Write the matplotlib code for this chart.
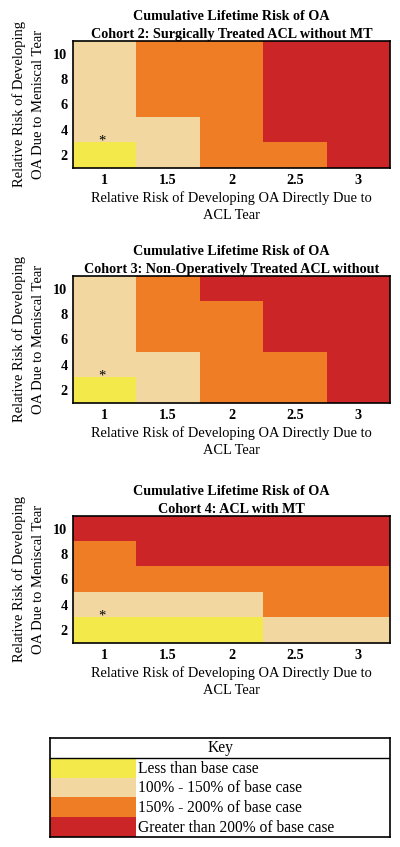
import matplotlib
matplotlib.use("Agg")
from matplotlib import pyplot as plt
from matplotlib.colors import ListedColormap
import numpy as np

plt.rcParams['font.family'] = ['Liberation Serif', 'DejaVu Serif']

# x: relative risk OA due to ACL tear, y: relative risk due to meniscal tear
acl_rr = [1, 1.5, 2, 2.5, 3]
mt_rr = [2, 4, 6, 8, 10]

# category per cell, rows = mt_rr (2 -> 10), cols = acl_rr
# 0 less than base, 1 100-150%, 2 150-200%, 3 >200%
cohort2 = [[0, 1, 2, 2, 3],
           [1, 1, 2, 3, 3],
           [1, 2, 2, 3, 3],
           [1, 2, 2, 3, 3],
           [1, 2, 2, 3, 3]]
cohort3 = [[0, 1, 2, 2, 3],
           [1, 1, 2, 2, 3],
           [1, 2, 2, 3, 3],
           [1, 2, 2, 3, 3],
           [1, 2, 3, 3, 3]]
cohort4 = [[0, 0, 0, 1, 1],
           [1, 1, 1, 2, 2],
           [2, 2, 2, 2, 2],
           [2, 3, 3, 3, 3],
           [3, 3, 3, 3, 3]]

titles = ["Cumulative Lifetime Risk of OA\nCohort 2: Surgically Treated ACL without MT",
          "Cumulative Lifetime Risk of OA\nCohort 3: Non-Operatively Treated ACL without",
          "Cumulative Lifetime Risk of OA\nCohort 4: ACL with MT"]

# base case marker (asterisk)
base_case = (0.98, 3.15)

key_labels = ["Less than base case", "100% - 150% of base case",
              "150% - 200% of base case", "Greater than 200% of base case"]
colors = ['#F3E94B', '#F2D8A0', '#EE7D25', '#CB2528']
cmap = ListedColormap(colors)

fig = plt.figure(figsize=(4, 8.47), dpi=100)

bottoms = [0.8017, 0.5242, 0.2409]
for data, title, b in zip([cohort2, cohort3, cohort4], titles, bottoms):
    ax = fig.add_axes([0.1825, b, 0.7925, 0.15])
    ax.imshow(np.array(data), cmap=cmap, vmin=-0.5, vmax=3.5, origin='lower',
              aspect='auto', extent=(0.75, 3.25, 1, 11), interpolation='nearest')
    ax.set_xticks(acl_rr)
    ax.set_xticklabels([str(v) for v in acl_rr], fontweight='bold', fontsize=10.3)
    ax.set_yticks(mt_rr)
    ax.set_yticklabels([str(v) for v in mt_rr], fontweight='bold', fontsize=10.3)
    ax.tick_params(length=0, pad=4)
    for s in ax.spines.values():
        s.set_linewidth(1.2)
    ax.set_title(title, fontweight='bold', fontsize=10.2, pad=2, linespacing=1.5)
    ax.set_xlabel("Relative Risk of Developing OA Directly Due to\nACL Tear",
                  fontsize=10.4, labelpad=3.5, linespacing=1.4)
    ax.set_ylabel("Relative Risk of Developing\nOA Due to Meniscal Tear",
                  fontsize=10.5, labelpad=6, linespacing=1.6)
    ax.text(base_case[0], base_case[1], '*', ha='center', va='center', fontsize=10.5)

# key
kx = fig.add_axes([0.125, 0.0118, 0.85, 0.1169])
kx.set_xlim(0, 340)
kx.set_ylim(5, 0)
kx.barh([1.5, 2.5, 3.5, 4.5], [86] * 4, height=1, left=0, color=colors)
kx.axhline(1, color='black', lw=1)
kx.text(170, 0.5, "Key", ha='center', va='center', fontsize=11.2)
for i, lab in enumerate(key_labels):
    kx.text(88, 1.55 + i, lab, ha='left', va='center', fontsize=11.2)
kx.set_xticks([])
kx.set_yticks([])
for s in kx.spines.values():
    s.set_linewidth(1.2)

fig.savefig("out.png", dpi=100)
